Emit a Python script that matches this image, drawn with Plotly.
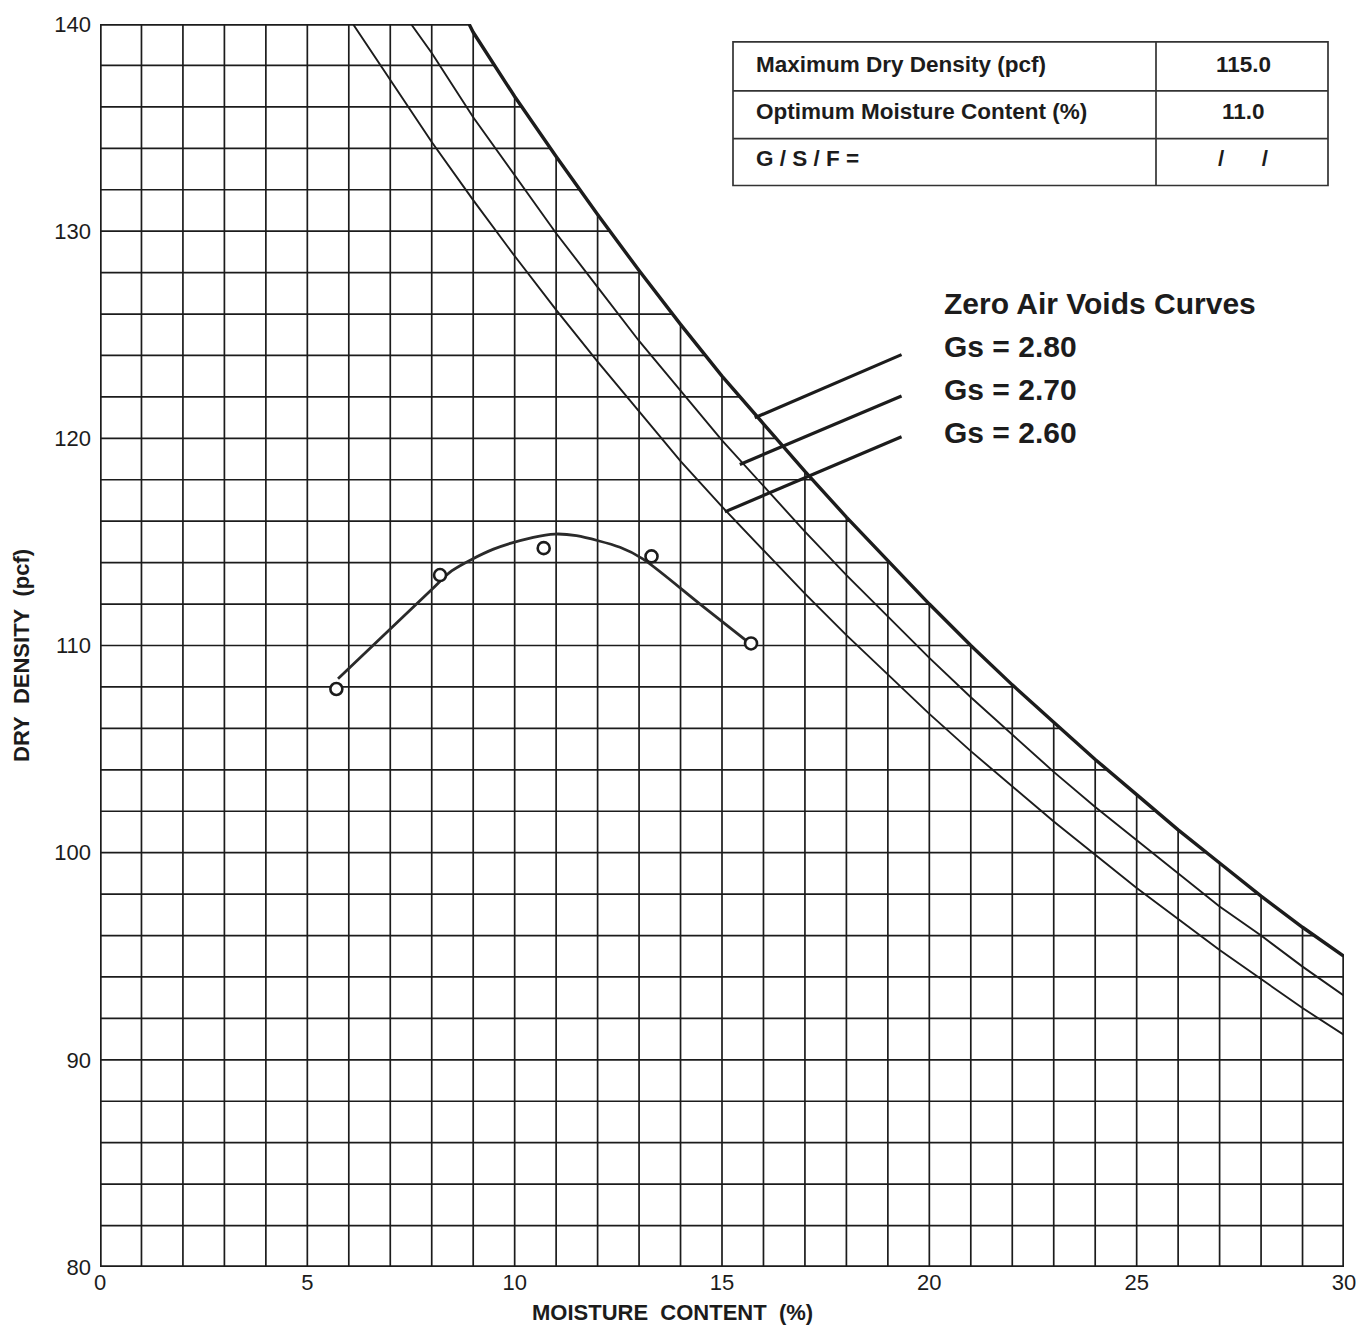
import plotly.graph_objects as go

# ---------------- data ----------------
# Zero-air-voids curves (moisture %, dry density pcf)
zav_w_280 = [8.9, 9, 10, 11, 12, 13, 14, 15, 16, 17, 18, 19, 20, 21, 22, 23, 24, 25, 26, 27, 28, 29, 30]
zav_d_280 = [140.0, 139.6, 136.5, 133.6, 130.8, 128.1, 125.5, 123.0, 120.7, 118.4, 116.2, 114.1, 112.0,
             110.0, 108.1, 106.3, 104.5, 102.8, 101.1, 99.5, 97.9, 96.4, 95.0]
zav_w_270 = [7.5, 8, 9, 10, 11, 12, 13, 14, 15, 16, 17, 18, 19, 20, 21, 22, 23, 24, 25, 26, 27, 28, 29, 30]
zav_d_270 = [140.0, 138.6, 135.5, 132.7, 129.9, 127.3, 124.7, 122.3, 119.9, 117.7, 115.5, 113.4, 111.4,
             109.4, 107.5, 105.7, 103.9, 102.2, 100.6, 99.0, 97.4, 96.0, 94.5, 93.1]
zav_w_260 = [6.1, 7, 8, 9, 10, 11, 12, 13, 14, 15, 16, 17, 18, 19, 20, 21, 22, 23, 24, 25, 26, 27, 28, 29, 30]
zav_d_260 = [140.0, 137.3, 134.3, 131.5, 128.8, 126.2, 123.7, 121.3, 118.9, 116.7, 114.6, 112.5, 110.5,
             108.6, 106.7, 104.9, 103.2, 101.5, 99.9, 98.3, 96.8, 95.3, 93.9, 92.5, 91.2]

# Test points
test_w = [5.7, 8.2, 10.7, 13.3, 15.7]
test_d = [107.9, 113.4, 114.7, 114.3, 110.1]

# Fitted compaction curve (read)
curve_w = [5.74, 8.0, 8.48, 9.49, 10.45, 10.97, 11.49, 12.54, 13.1, 14.47, 15.67]
curve_d = [108.4, 112.7, 113.6, 114.65, 115.22, 115.38, 115.3, 114.74, 114.17, 112.0, 110.1]

# Grid positions (1 % moisture, 2 pcf)
grid_x = list(range(1, 30))
grid_y = list(range(82, 140, 2))

x_ticks = [0, 5, 10, 15, 20, 25, 30]
y_ticks = [80, 90, 100, 110, 120, 130, 140]

# Leader lines from labels to curves
leader_x = [[19.33, 15.79], [19.33, 15.43], [19.33, 15.07]]
leader_y = [[124.04, 120.99], [122.04, 118.74], [120.08, 116.45]]

table_rows = [("Maximum Dry Density (pcf)", "115.0"),
              ("Optimum Moisture Content (%)", "11.0"),
              ("G / S / F =", "/\u00a0\u00a0\u00a0\u00a0\u00a0\u00a0/")]
zav_labels = ["Zero Air Voids Curves", "Gs = 2.80", "Gs = 2.70", "Gs = 2.60"]

# ---------------- layout constants ----------------
W, H = 1368, 1330
L, R, T, B = 100, 1344, 20, 1267
INK = "#1c1c1c"
FONT = "Liberation Sans, Arial, sans-serif"


def px(xp):
    return (xp - L) / (R - L)


def py(yp):
    return (B - yp) / (B - T)


fig = go.Figure()

# grid
gx, gy = [], []
for xv in grid_x:
    gx += [xv, xv, None]
    gy += [80, 140, None]
for yv in grid_y:
    gx += [0, 30, None]
    gy += [yv, yv, None]
fig.add_trace(go.Scatter(x=gx, y=gy, mode="lines", line=dict(color=INK, width=1.7),
                         hoverinfo="skip", showlegend=False))

# blank region above the Gs=2.80 curve
fig.add_trace(go.Scatter(x=zav_w_280 + [30, 8.9], y=zav_d_280 + [140, 140], mode="lines",
                         fill="toself", fillcolor="white", line=dict(width=0, color="white"),
                         hoverinfo="skip", showlegend=False))

# ZAV curves 2.60 / 2.70
for wv, dv in [(zav_w_270, zav_d_270), (zav_w_260, zav_d_260)]:
    fig.add_trace(go.Scatter(x=wv, y=dv, mode="lines", line=dict(color=INK, width=1.9),
                             hoverinfo="skip", showlegend=False))

# outline incl. Gs=2.80 curve
ox = [0, 0] + zav_w_280 + [30, 0]
oy = [80, 140] + zav_d_280 + [80, 80]
fig.add_trace(go.Scatter(x=ox, y=oy, mode="lines", line=dict(color=INK, width=3.4),
                         cliponaxis=False, hoverinfo="skip", showlegend=False))

# leader lines
for lx, ly in zip(leader_x, leader_y):
    fig.add_trace(go.Scatter(x=lx, y=ly, mode="lines", line=dict(color=INK, width=3.2),
                             hoverinfo="skip", showlegend=False))

# compaction curve
fig.add_trace(go.Scatter(x=curve_w, y=curve_d, mode="lines",
                         line=dict(color="#2a2a2a", width=2.8, shape="spline", smoothing=0.8),
                         hoverinfo="skip", showlegend=False))
fig.add_trace(go.Scatter(x=test_w, y=test_d, mode="markers",
                         marker=dict(symbol="circle", size=12, color="white",
                                     line=dict(color=INK, width=2.6)),
                         showlegend=False))

fig.update_xaxes(range=[0, 30], tickvals=x_ticks, showgrid=False, zeroline=False, showline=False,
                 ticks="", ticklabelstandoff=0, tickfont=dict(family=FONT, size=22, color=INK))
fig.update_yaxes(range=[80, 140], tickvals=y_ticks, showgrid=False, zeroline=False, showline=False,
                 ticks="", ticklabelstandoff=8, tickfont=dict(family=FONT, size=22, color=INK))

shapes = []
# table
tx0, tx1, txm = 733, 1328, 1156
ty = [38, 87, 135, 182]
shapes.append(dict(type="rect", xref="paper", yref="paper", x0=px(tx0), x1=px(tx1), y0=py(ty[3]), y1=py(ty[0]),
                   line=dict(color="#333", width=1.7)))
shapes.append(dict(type="line", xref="paper", yref="paper", x0=px(txm), x1=px(txm), y0=py(ty[3]), y1=py(ty[0]),
                   line=dict(color="#333", width=1.7)))
for yy in ty[1:3]:
    shapes.append(dict(type="line", xref="paper", yref="paper", x0=px(tx0), x1=px(tx1), y0=py(yy), y1=py(yy),
                       line=dict(color="#333", width=1.7)))

annotations = []
row_centers = [61, 108, 155]
for (lab, val), yc in zip(table_rows, row_centers):
    annotations.append(dict(xref="paper", yref="paper", x=px(754), y=py(yc), text="<b>%s</b>" % lab,
                            xanchor="left", yanchor="middle", showarrow=False,
                            font=dict(family=FONT, size=22.5, color=INK)))
    annotations.append(dict(xref="paper", yref="paper", x=px(1243), y=py(yc), text="<b>%s</b>" % val,
                            xanchor="center", yanchor="middle", showarrow=False,
                            font=dict(family=FONT, size=22.5, color=INK)))

for lab, yc in zip(zav_labels, [300, 344, 387, 430]):
    annotations.append(dict(xref="paper", yref="paper", x=px(942), y=py(yc), text="<b>%s</b>" % lab,
                            xanchor="left", yanchor="middle", showarrow=False,
                            font=dict(family=FONT, size=30, color=INK)))

annotations.append(dict(xref="paper", yref="paper", x=px(672), y=py(1313),
                        text="<b>MOISTURE\u00a0\u00a0CONTENT\u00a0\u00a0(%)</b>",
                        xanchor="center", yanchor="middle", showarrow=False,
                        font=dict(family=FONT, size=22, color=INK)))
annotations.append(dict(xref="paper", yref="paper", x=px(22), y=py(654),
                        text="<b>DRY\u00a0\u00a0DENSITY\u00a0\u00a0(pcf)</b>", textangle=-90,
                        xanchor="center", yanchor="middle", showarrow=False,
                        font=dict(family=FONT, size=22, color=INK)))

fig.update_layout(width=W, height=H, margin=dict(l=L, r=W - R, t=T, b=H - B),
                  paper_bgcolor="white", plot_bgcolor="white",
                  shapes=shapes, annotations=annotations, showlegend=False)

fig.write_html("out.html", config={"displayModeBar": False},
               post_script="document.body.style.margin='0';document.body.style.padding='0';"
                           "document.documentElement.style.overflow='hidden';")
